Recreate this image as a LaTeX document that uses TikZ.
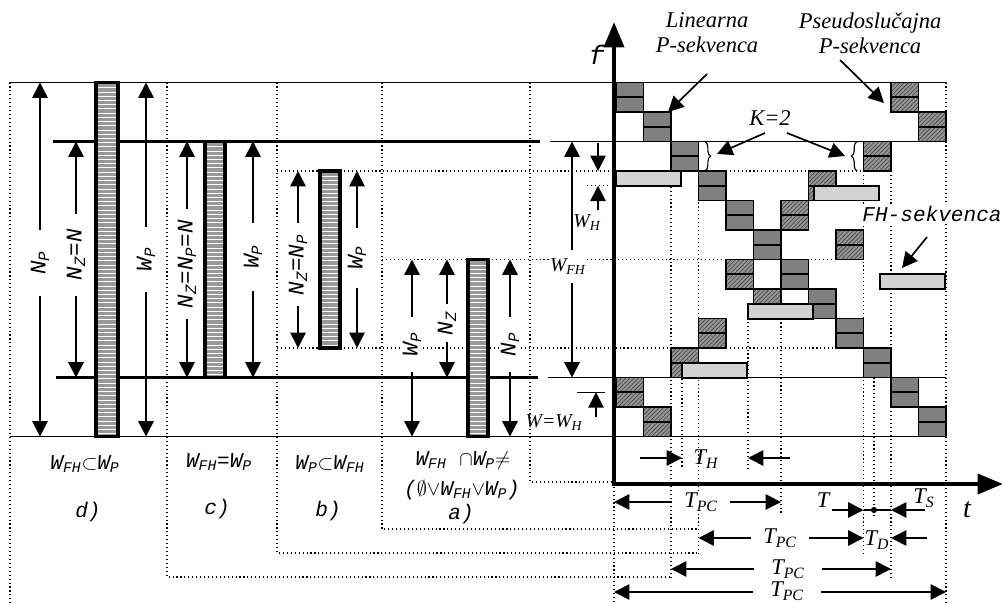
\documentclass[tikz,border=0pt]{standalone}
\usepackage{fontspec}
\setmainfont{Liberation Serif}
\setmonofont{Liberation Mono}
\usetikzlibrary{arrows.meta, patterns, decorations.pathreplacing}
\definecolor{cchip}{HTML}{808080}
\definecolor{chatch}{HTML}{949494}
\definecolor{chop}{HTML}{D2D2D2}
\definecolor{ccase}{HTML}{999999}
\tikzset{
  every picture/.style={line width=1pt},
  tipa/.style={-{Triangle[length=11pt, width=11pt]}, line width=1.2pt},
  dim/.style={{Triangle[length=11pt, width=11pt]}-{Triangle[length=11pt, width=11pt]}, line width=1.2pt},
  axis/.style={{Triangle[length=18pt, width=14pt]}-{Triangle[length=18pt, width=14pt]}, line width=3.2pt, line join=miter},
  grid/.style={dotted, line width=0.8pt},
  band/.style={line width=2.2pt},
  cw/.style={font=\fontsize{15}{17}\selectfont\ttfamily\itshape},
  tw/.style={font=\fontsize{16}{18}\selectfont\itshape},
  sw/.style={font=\fontsize{14}{16}\selectfont\itshape},
  vlab/.style={font=\fontsize{16}{18}\selectfont\ttfamily\itshape, rotate=90, fill=white, inner xsep=8pt, inner ysep=1pt},
  tlab/.style={tw, fill=white, inner xsep=9pt, inner ysep=1pt},
  case/.style={draw, line width=2.4pt, preaction={fill=ccase}, pattern=horizontal lines, pattern color=white},
  chip/.style={draw, line width=1.3pt, fill=cchip},
  hchip/.style={draw, line width=1.3pt, preaction={fill=chatch}, pattern=north east lines, pattern color=black!75},
  hop/.style={draw, line width=1.3pt, fill=chop},
  brc/.style={decorate, decoration={brace, amplitude=4pt}, line width=0.8pt},
}
\begin{document}
\begin{tikzpicture}[x=0.025cm, y=-0.025cm]
  \useasboundingbox (0,0) rectangle (1003,603);
  % dotted guides
  \draw[grid] (10,82.5) -- (10,603);
  \draw[grid] (167,82.5) -- (167,577) -- (671,577);
  \draw[grid] (277,82.5) -- (277,553) -- (698.5,553);
  \draw[grid] (382,82.5) -- (382,529) -- (698.5,529);
  \draw[grid] (530,82.5) -- (530,482) -- (614,482) -- (614,603);
  \draw[grid] (277,171) -- (863.5,171);
  \draw[grid] (382,259.5) -- (836,259.5);
  \draw[grid] (277,348) -- (836,348);
  \draw[grid] (587,185.75) -- (609,185.75);
  \foreach \x/\ya/\yb in {671/171/577, 698.5/171/553, 682/363/468, 748/318/468, 781/259.5/513,
                          863.5/171/553, 874/377.5/516, 891/171/578, 946/82.5/603}
    \draw[grid] (\x,\ya) -- (\x,\yb);
  % band edges
  \draw (10,82.5) -- (946,82.5);
  \draw (10,436.5) -- (946,436.5);
  \draw[band] (53,141.5) -- (540,141.5);
  \draw (550,141.5) -- (946,141.5);
  \draw[band] (56,377.5) -- (538,377.5);
  \draw (548,377.5) -- (946,377.5);
  % cases d) c) b) a)
  \draw[case] (96,82.5) rectangle (118,436.5);
  \draw[case] (205,141.5) rectangle (225,377.5);
  \draw[case] (320,171) rectangle (340,348);
  \draw[case] (468,259.5) rectangle (488,436.5);
  \draw[dim] (40,82.5) -- node[vlab, pos=0.51, inner xsep=15pt] (npd) {N\textsubscript{P}} (40,436.5);
  \draw[dim] (76,141.5) -- node[vlab, pos=0.48, inner xsep=11pt] (nzd) {N\textsubscript{Z}=N} (76,377.5);
  \draw[dim] (146,82.5) -- node[vlab, pos=0.5, inner xsep=15pt] (wpd) {W\textsubscript{P}} (146,436.5);
  \draw[dim] (187,141.5) -- node[vlab, pos=0.52] (nzc) {N\textsubscript{Z}=N\textsubscript{P}=N} (187,377.5);
  \draw[dim] (253,141.5) -- node[vlab, pos=0.49, inner xsep=16pt] (wpc) {W\textsubscript{P}} (253,377.5);
  \draw[dim] (298,171) -- node[vlab, pos=0.53] (nzb) {N\textsubscript{Z}=N\textsubscript{P}} (298,348);
  \draw[dim] (357,171) -- node[vlab, pos=0.49, inner xsep=13pt] (wpb) {W\textsubscript{P}} (357,348);
  \draw[dim] (412,259.5) -- node[vlab, pos=0.48, inner xsep=11pt] (wpa) {W\textsubscript{P}} (412,436.5);
  \draw[dim] (447,259.5) -- node[vlab, pos=0.54, inner xsep=5pt] (nza) {N\textsubscript{Z}} (447,377.5);
  \draw[dim] (510,259.5) -- node[vlab, pos=0.48, inner xsep=11pt] (npa) {N\textsubscript{P}} (510,436.5);
  \draw[dim] (572,141.5) -- node[sw, fill=white, pos=0.53, inner xsep=1pt, inner ysep=6pt, xshift=-3pt] (wfh) {W\textsubscript{FH}} (572,377.5);
  \draw[tipa] (598,143) -- (598,171);
  \draw[tipa] (598,210) -- (598,185.75);
  \node[sw] (wh) at (587,223) {W\textsubscript{H}};
  \draw[tipa] (596,417) -- (596,392.25);
  \draw (577,392.25) -- (605,392.25);
  \node[sw] (ww) at (554,423) {W=W\textsubscript{H}};
  \node[cw] (dcond) at (85,464) {W\textsubscript{FH}$\subset$W\textsubscript{P}};
  \node[cw] (dlab) at (88,512) {d)};
  \node[cw] (ccond) at (219,462) {W\textsubscript{FH}=W\textsubscript{P}};
  \node[cw] (clab) at (217,509) {c)};
  \node[cw] (bcond) at (330,464) {W\textsubscript{P}$\subset$W\textsubscript{FH}};
  \node[cw] (blab) at (328,511) {b)};
  \node[cw] (acond) at (463,460) {W\textsubscript{FH} $\cap$W\textsubscript{P}$\neq$};
  \node[cw] (aset) at (462,490) {($\emptyset\vee$W\textsubscript{FH}$\vee$W\textsubscript{P})};
  \node[cw] (alab) at (461,514) {a)};
  % hopping pattern
  \foreach \c in {0,...,11}{
    \draw[chip] ({616+27.5*\c},{82.5+29.5*\c}) rectangle ++(27.5,29.5);
    \draw[line width=1.3pt] ({616+27.5*\c},{97.25+29.5*\c}) -- ++(27.5,0);
  }
  \foreach \c/\r in {0/10,1/11,2/9,3/8,4/6,5/7,6/4,7/3,8/5,9/2,10/0,11/1}{
    \draw[hchip] ({616+27.5*\c},{82.5+29.5*\r}) rectangle ++(27.5,29.5);
    \draw[line width=1.3pt] ({616+27.5*\c},{97.25+29.5*\r}) -- ++(27.5,0);
  }
  \foreach \x/\y in {616/171, 682/363.25, 748/304.25, 814/185.75, 880/274.25}
    \draw[hop] (\x,\y) rectangle ++(65,14.75);
  \draw[axis] (614,22) -- (614,484) -- (1003,484);
  \node[font=\fontsize{19}{21}\selectfont\ttfamily\itshape] (flbl) at (597,55) {f};
  \node[font=\fontsize{20}{22}\selectfont\itshape] (tlbl) at (967,510) {t};
  \node[tw, align=center] (lin) at (707,33) {Linearna\\P-sekvenca};
  \node[tw, align=center] (psd) at (870,33) {Pseudoslučajna\\P-sekvenca};
  \node[tw] (k2) at (770,118) {K=2};
  \node[cw, fill=white, inner sep=1pt] (fhs) at (932,214) {FH-sekvenca};
  \coordinate (linA) at (707,74);  \coordinate (linB) at (668,112);
  \coordinate (psdA) at (840,60);  \coordinate (psdB) at (884,103);
  \coordinate (k2A) at (765,133);  \coordinate (k2B) at (717,154);
  \coordinate (k2C) at (787,133);  \coordinate (k2D) at (845,156);
  \coordinate (fhsA) at (927,237); \coordinate (fhsB) at (902,268);
  \draw[tipa] (linA) -- (linB);
  \draw[tipa] (psdA) -- (psdB);
  \draw[tipa] (k2A) -- (k2B);
  \draw[tipa] (k2C) -- (k2D);
  \draw[tipa] (fhsA) -- (fhsB);
  \draw[brc] (705,141.5) -- (705,171);
  \draw[brc] (857,171) -- (857,141.5);
  % time marks
  \draw[tipa] (640,458) -- (682,458);
  \draw[tipa] (790,458) -- (748,458);
  \node[tw] (th) at (706,459) {T\textsubscript{H}};
  \draw[dim] (614,502) -- (781,502);
  \node[tlab] (tpca) at (701,502) {T\textsubscript{PC}};
  \draw[dim] (698.5,538) -- (863.5,538);
  \node[tlab] (tpcb) at (780,538) {T\textsubscript{PC}};
  \draw[dim] (671,569) -- (891,569);
  \node[tlab, inner xsep=12pt] (tpcc) at (788,569) {T\textsubscript{PC}};
  \draw[dim] (614,592) -- (946,592);
  \node[tlab, inner xsep=12pt, inner ysep=0pt] (tpcd) at (787,591) {T\textsubscript{PC}};
  \draw[tipa] (927,538) -- (891,538);
  \node[tw] (td) at (877,540) {T\textsubscript{D}};
  \draw[tipa] (832,510) -- (863.5,510);
  \draw (863.5,510) -- (891,510);
  \fill (874,510) circle (2.2pt);
  \draw[tipa] (925,510) -- (891,510);
  \node[tw] (tt) at (823,500) {T};
  \node[tw] (ts) at (924,498) {T\textsubscript{S}};
\end{tikzpicture}
\end{document}
